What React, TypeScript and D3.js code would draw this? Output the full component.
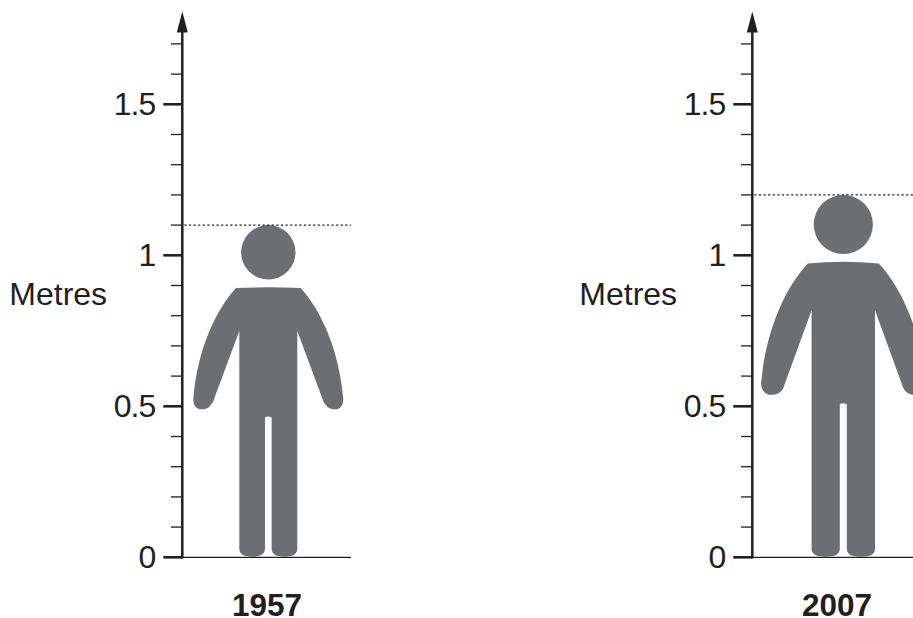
import React from "react";
import * as d3 from "d3";

// Chart values (metres)
const years = ["1957", "2007"];
const heights = [1.1, 1.2];
const headRadius = [0.09, 0.098];
const shoulderTop = [0.894, 0.979];
const shoulderEdge = [0.892, 0.973];
const shoulderHalf = [0.107, 0.118];
const armOuterHalf = [0.248, 0.272];
const armOuterLevel = [0.527, 0.577];
const armTipHalf = [0.221, 0.24];
const armTipLevel = [0.49, 0.538];
const armInnerHalf = [0.183, 0.199];
const armInnerLevel = [0.515, 0.56];
const armpitLevel = [0.749, 0.818];
const torsoHalf = [0.096, 0.105];
const gapHalf = [0.011, 0.0116];
const gapLevel = [0.466, 0.51];
const majorTicks = [0, 0.5, 1, 1.5];
const tickLabels = ["0", "0.5", "1", "1.5"];
const minorTicks = [0.1, 0.2, 0.3, 0.4, 0.6, 0.7, 0.8, 0.9, 1.1, 1.2, 1.3, 1.4, 1.6, 1.7];
const axisLabel = "Metres";

const W = 913;
const H = 618;
const INK = "#231f20";
const GREY = "#6d6e71";
const FONT = "'Liberation Sans', Arial, sans-serif";

const y = d3.scaleLinear().domain([0, 1.5]).range([557.3, 104.3]);
const pxPerMetre = y(0) - y(1);
const axisX = [182.3, 752.3];
const figureX = [268.3, 843.3];
const yearX = [267, 837];
const baseEnd = [351, 913];

function bodyPath(i: number, cx: number): string {
  const sx = (s: number, d: number) => cx + s * d * pxPerMetre;
  const p = d3.path();
  const legEnd = 0.002;
  const legCorner = 0.028;
  const half = (s: number) => ({
    ex: sx(s, shoulderHalf[i]), ey: y(shoulderEdge[i]),
    ox: sx(s, armOuterHalf[i]), oy: y(armOuterLevel[i]),
    tx: sx(s, armTipHalf[i]), ty: y(armTipLevel[i]),
    ix: sx(s, armInnerHalf[i]), iy: y(armInnerLevel[i]),
  });
  const r = half(1);
  const rOuter = sx(1, torsoHalf[i]);
  const rInner = sx(1, gapHalf[i]);
  p.moveTo(r.ex, r.ey);
  p.bezierCurveTo(
    r.ex + (r.ox - r.ex) * 0.47, r.ey + (r.oy - r.ey) * 0.2,
    r.ex + (r.ox - r.ex) * 0.9, r.ey + (r.oy - r.ey) * 0.55,
    r.ox, r.oy
  );
  p.bezierCurveTo(r.ox + 0.5, r.oy + 7, r.tx + 5, r.ty, r.tx, r.ty);
  p.bezierCurveTo(r.tx - 6, r.ty, r.ix + 3, r.iy + 5, r.ix, r.iy);
  p.lineTo(rOuter, y(armpitLevel[i]));
  p.lineTo(rOuter, y(legCorner));
  p.bezierCurveTo(rOuter, y(legEnd) - 1, rOuter - 7, y(legEnd), (rOuter + rInner) / 2, y(legEnd));
  p.bezierCurveTo(rInner + 7, y(legEnd), rInner, y(legEnd) - 1, rInner, y(legCorner));
  p.lineTo(rInner, y(gapLevel[i]) + 1.5);
  p.quadraticCurveTo(rInner, y(gapLevel[i]), cx, y(gapLevel[i]));
  // mirror side, walked from the gap outwards
  const m = half(-1);
  const outer = sx(-1, torsoHalf[i]);
  const inner = sx(-1, gapHalf[i]);
  p.quadraticCurveTo(inner, y(gapLevel[i]), inner, y(gapLevel[i]) + 1.5);
  p.lineTo(inner, y(legCorner));
  p.bezierCurveTo(inner, y(legEnd) - 1, inner - 7, y(legEnd), (outer + inner) / 2, y(legEnd));
  p.bezierCurveTo(outer + 7, y(legEnd), outer, y(legEnd) - 1, outer, y(legCorner));
  p.lineTo(outer, y(armpitLevel[i]));
  p.lineTo(m.ix, m.iy);
  p.bezierCurveTo(m.ix - 3, m.iy + 5, m.tx + 6, m.ty, m.tx, m.ty);
  p.bezierCurveTo(m.tx - 5, m.ty, m.ox - 0.5, m.oy + 7, m.ox, m.oy);
  p.bezierCurveTo(
    m.ex + (m.ox - m.ex) * 0.9, m.ey + (m.oy - m.ey) * 0.55,
    m.ex + (m.ox - m.ex) * 0.47, m.ey + (m.oy - m.ey) * 0.2,
    m.ex, m.ey
  );
  p.quadraticCurveTo(cx, y(shoulderTop[i]) - (y(shoulderEdge[i]) - y(shoulderTop[i])), r.ex, r.ey);
  p.closePath();
  return p.toString();
}

function Panel({ i }: { i: number }) {
  const ax = axisX[i];
  const cx = figureX[i];
  const top = y(heights[i]);
  const r = headRadius[i] * pxPerMetre;
  return (
    <g>
      <path d={bodyPath(i, cx)} fill={GREY} />
      <circle cx={cx} cy={top + r} r={r} fill={GREY} />
      {minorTicks.map((t) => (
        <line key={t} x1={ax - 11.3} x2={ax} y1={y(t)} y2={y(t)} stroke={INK} strokeWidth={1.3} />
      ))}
      {majorTicks.map((t, k) => (
        <g key={t}>
          <line x1={ax - 19} x2={ax} y1={y(t)} y2={y(t)} stroke={INK} strokeWidth={2.6} />
          <text x={ax - 27} y={y(t) + 10.7} textAnchor="end" fontFamily={FONT} fontSize={32} letterSpacing={-1} fill={INK}>
            {tickLabels[k]}
          </text>
        </g>
      ))}
      <line x1={ax + 2} x2={baseEnd[i]} y1={top} y2={top} stroke={INK} strokeWidth={1.4} strokeDasharray="2.2 2.4" />
      <line x1={ax} x2={baseEnd[i]} y1={y(0)} y2={y(0)} stroke={INK} strokeWidth={1.3} />
      <line x1={ax} x2={ax} y1={y(0) + 1.3} y2={30} stroke={INK} strokeWidth={2.5} />
      <path d={`M${ax},11.5L${ax + 5.5},32.5L${ax - 5.5},32.5Z`} fill={INK} />
      <text x={yearX[i]} y={615.5} textAnchor="middle" fontFamily={FONT} fontWeight={700} fontSize={31.5} fill={INK}>
        {years[i]}
      </text>
      <text x={ax - 173} y={305} fontFamily={FONT} fontSize={32} fill={INK}>
        {axisLabel}
      </text>
    </g>
  );
}

export default function App() {
  return (
    <svg width={W} height={H} viewBox={`0 0 ${W} ${H}`} style={{ position: "absolute", left: 0, top: 0, background: "#fff" }}>
      {years.map((_, i) => (
        <Panel key={i} i={i} />
      ))}
    </svg>
  );
}
